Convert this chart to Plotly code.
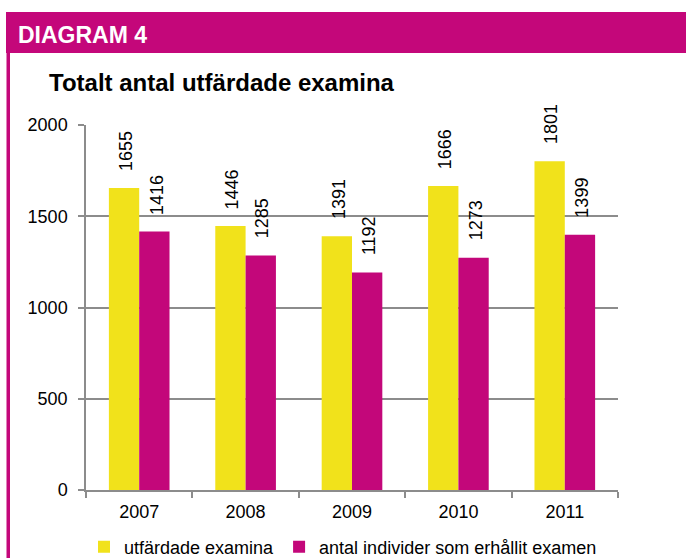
import plotly.graph_objects as go

years = ["2007", "2008", "2009", "2010", "2011"]
utfardade = [1655, 1446, 1391, 1666, 1801]
individer = [1416, 1285, 1192, 1273, 1399]
series_names = ["utfärdade examina", "antal individer som erhållit examen"]
y_ticks = [0, 500, 1000, 1500, 2000]

YELLOW = "#F1E21B"
MAGENTA = "#C3077A"
HEADER = "#C4077A"
GRID = "#8C8C8C"
FONT = "Liberation Sans, Arial, sans-serif"

W, H = 686, 558
L, R, T, B = 86, 68, 125, 68
PW, PH = W - L - R, H - T - B


def px(x):
    return (x - L) / PW


def py(y):
    return (H - B - y) / PH


fig = go.Figure()
fig.add_trace(go.Bar(x=years, y=utfardade, name=series_names[0],
                     marker=dict(color=YELLOW, line=dict(width=0))))
fig.add_trace(go.Bar(x=years, y=individer, name=series_names[1],
                     marker=dict(color=MAGENTA, line=dict(width=0))))

annotations = []
# bar value labels (rotated)
group_px = PW / len(years)
bar_px = group_px * (1 - 0.43) / 2
for vals, sign in ((utfardade, -1), (individer, 1)):
    for i, v in enumerate(vals):
        annotations.append(dict(
            x=i, y=v, xref="x", yref="y", text=str(v), showarrow=False,
            textangle=-90, yanchor="bottom", xanchor="center",
            xshift=sign * bar_px / 2 + 2, yshift=15,
            font=dict(family=FONT, size=18, color="#000000")))

annotations.append(dict(
    x=px(16), y=py(35), xref="paper", yref="paper", text="<b>DIAGRAM 4</b>",
    showarrow=False, xanchor="left", yanchor="middle",
    font=dict(family=FONT, size=23, color="#FFFFFF")))
annotations.append(dict(
    x=px(47), y=py(82.5), xref="paper", yref="paper",
    text="<b>Totalt antal utfärdade examina</b>",
    showarrow=False, xanchor="left", yanchor="middle",
    font=dict(family=FONT, size=24, color="#000000")))

shapes = [
    dict(type="rect", xref="paper", yref="paper", x0=px(6), x1=px(700),
         y0=py(53), y1=py(12), fillcolor=HEADER, line=dict(width=0)),
    dict(type="rect", xref="paper", yref="paper", x0=px(6.5), x1=px(10),
         y0=py(570), y1=py(53), fillcolor=HEADER, line=dict(width=0)),
]

fig.update_layout(
    width=W, height=H,
    margin=dict(l=L, r=R, t=T, b=B, pad=0, autoexpand=False),
    paper_bgcolor="white", plot_bgcolor="white",
    barmode="group", bargap=0.43, bargroupgap=0,
    font=dict(family=FONT, size=18, color="#000000"),
    showlegend=True,
    legend=dict(orientation="h", x=0.5 - 9 / PW, xanchor="center", y=py(547),
                yanchor="middle", font=dict(family=FONT, size=18),
                bgcolor="rgba(0,0,0,0)", traceorder="normal"),
    annotations=annotations,
    shapes=shapes,
)
fig.update_xaxes(type="category", range=[-0.5, len(years) - 0.5],
                 automargin=False, showgrid=False, showline=True,
                 linecolor=GRID, linewidth=1.5, ticks="outside",
                 tickson="boundaries", ticklen=6, tickcolor=GRID,
                 tickwidth=1.5, tickfont=dict(size=18), tickangle=0,
                 ticklabelstandoff=5)
fig.update_yaxes(range=[0, 2000], tickvals=y_ticks, showgrid=True,
                 automargin=False,
                 gridcolor=GRID, gridwidth=1.5, showline=True,
                 linecolor=GRID, linewidth=1.5, ticks="outside", ticklen=6,
                 tickcolor=GRID, tickwidth=1.5, zeroline=False,
                 tickfont=dict(size=18), ticklabelstandoff=7)

fig.write_html("out.html",
               config={"displayModeBar": False},
               post_script="document.body.style.margin='0';"
                           "document.body.style.padding='0';")
